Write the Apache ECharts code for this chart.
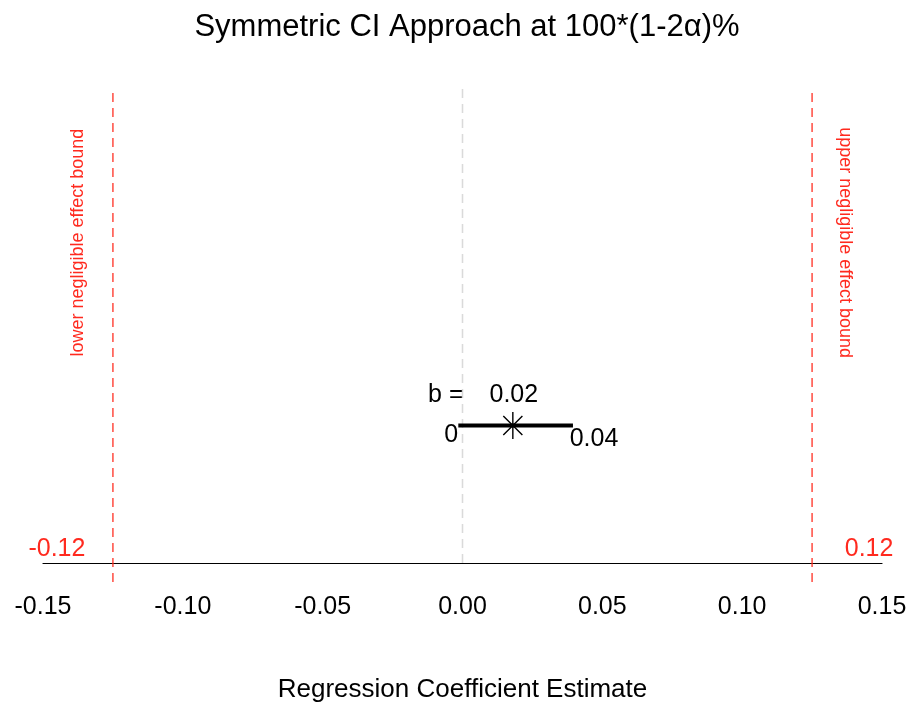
<!DOCTYPE html>
<html>
<head>
<meta charset="utf-8">
<script src="https://cdn.jsdelivr.net/npm/echarts@6/dist/echarts.min.js"></script>
<style>
  html, body { margin: 0; padding: 0; background: #fff; }
  #chart { width: 911px; height: 708px; }
</style>
</head>
<body>
<div id="chart"></div>
<script>
// values
const estimate = 0.018
const estimateLabel = '0.02'
const ciBounds = [-0.0015, 0.0395]
const ciLabels = ['0', '0.04']
const effectBounds = [-0.125, 0.125]
const effectLabels = ['-0.12', '0.12']
const boundNames = ['lower negligible effect bound', 'upper negligible effect bound']
const xRange = [-0.15, 0.15]
const ciLevel = 0.29 // height of the CI segment in the (hidden) y scale

const font = '"Liberation Sans", Arial, Helvetica, sans-serif'
const red = '#ff2a1f'

const myChart = echarts.init(document.getElementById('chart'))

const dashed = (x, col, y0) => ({
  type: 'line',
  data: [[x, y0], [x, 1]],
  symbol: 'none',
  clip: false,
  silent: true,
  animation: false,
  lineStyle: { color: col, width: 1.5, type: [9, 6], opacity: 0.85 }
})

const textPoint = (x, y, text, opts) => ({
  type: 'scatter',
  data: [[x, y]],
  symbolSize: 0,
  clip: false,
  silent: true,
  animation: false,
  itemStyle: { opacity: 1 },
  label: Object.assign({
    show: true,
    formatter: text,
    position: 'inside',
    fontFamily: font,
    fontSize: 25,
    color: '#000'
  }, opts)
})

myChart.setOption({
  backgroundColor: '#fff',
  animation: false,
  title: {
    text: 'Symmetric CI Approach at 100*(1-2α)%',
    left: 462,
    textAlign: 'center',
    top: 7,
    textStyle: { fontFamily: font, fontSize: 31, fontWeight: 'normal', color: '#000' }
  },
  grid: { left: 43, right: 29, top: 89, bottom: 142 },
  xAxis: {
    type: 'value',
    min: xRange[0],
    max: xRange[1],
    interval: 0.05,
    name: 'Regression Coefficient Estimate',
    nameLocation: 'middle',
    nameGap: 114,
    nameTextStyle: { fontFamily: font, fontSize: 26, color: '#000' },
    axisLine: { show: true, onZero: false, lineStyle: { color: '#000', width: 1.2 } },
    axisTick: { show: false },
    splitLine: { show: false },
    axisLabel: {
      margin: 32,
      fontFamily: font,
      fontSize: 25,
      color: '#000',
      formatter: v => v.toFixed(2)
    }
  },
  yAxis: { type: 'value', min: 0, max: 1, show: false },
  series: [
    dashed(0, '#d4d4d4', 0),
    dashed(effectBounds[0], red, -0.04),
    dashed(effectBounds[1], red, -0.04),
    {
      type: 'line',
      data: [[ciBounds[0], ciLevel], [ciBounds[1], ciLevel]],
      symbol: 'none',
      animation: false,
      lineStyle: { color: '#000', width: 4 }
    },
    {
      type: 'scatter',
      data: [[estimate, ciLevel]],
      symbol: 'path://M0,-10L0,10M-10,0L10,0M-7.07,-7.07L7.07,7.07M-7.07,7.07L7.07,-7.07',
      symbolSize: 27,
      animation: false,
      itemStyle: { color: 'none', borderColor: '#000', borderWidth: 1.4, opacity: 1 }
    },
    textPoint(estimate, ciLevel, 'b =', { offset: [-67, -30] }),
    textPoint(estimate, ciLevel, estimateLabel, { offset: [1, -30] }),
    textPoint(ciBounds[0], ciLevel, ciLabels[0], { offset: [-7, 10] }),
    textPoint(ciBounds[1], ciLevel, ciLabels[1], { offset: [21, 14] }),
    textPoint(effectBounds[0], 0, effectLabels[0], { offset: [-56, -14], color: red }),
    textPoint(effectBounds[1], 0, effectLabels[1], { offset: [57, -14], color: red }),
    textPoint(effectBounds[0], 0.676, boundNames[0], { offset: [0, -35], rotate: 90, fontSize: 18, color: red }),
    textPoint(effectBounds[1], 0.676, boundNames[1], { offset: [0, -33], rotate: -90, fontSize: 18, color: red })
  ]
})
</script>
</body>
</html>
